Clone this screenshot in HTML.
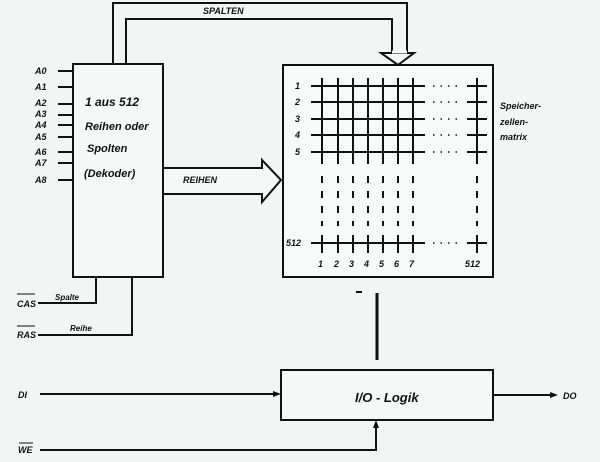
<!DOCTYPE html>
<html><head><meta charset="utf-8"><style>
body{margin:0;background:#f3f4f4}
svg{display:block}
text{font-family:"Liberation Sans",sans-serif;font-style:italic;font-weight:bold;fill:#111}
</style></head><body>
<svg width="600" height="462" viewBox="0 0 600 462">
<rect width="600" height="462" fill="#f3f4f4"/>
<g stroke="#111" stroke-width="2" fill="none">
<!-- decoder -->
<rect x="73" y="64" width="90" height="213" fill="#f6f7f7"/>
<!-- top loops -->
<polyline points="113,64 113,3 407,3 407,53"/>
<polyline points="126,64 126,19 392,19 392,53"/>
<polygon points="381,53 392,53 392,53 407,53 414,53 398,65" fill="#f6f7f7"/>
<line x1="392" y1="52" x2="407" y2="52" stroke="#f6f7f7" stroke-width="3"/>
<!-- REIHEN arrow -->
<polygon points="163,168 262,168 262,160 281,180 262,202 262,194 163,194" fill="#f6f7f7"/>
<!-- matrix box -->
<rect x="283" y="65" width="210" height="212" fill="#f8f9f9"/>
<!-- address lines -->
<line x1="58" y1="71" x2="73" y2="71"/><line x1="58" y1="87" x2="73" y2="87"/>
<line x1="58" y1="104" x2="73" y2="104"/><line x1="58" y1="115" x2="73" y2="115"/>
<line x1="58" y1="125" x2="73" y2="125"/><line x1="58" y1="137" x2="73" y2="137"/>
<line x1="58" y1="152" x2="73" y2="152"/><line x1="58" y1="163" x2="73" y2="163"/>
<line x1="58" y1="180" x2="73" y2="180"/>
<!-- CAS RAS -->
<polyline points="38,303 96,303 96,277"/>
<polyline points="38,335 132,335 132,277"/>
<!-- IO -->
<rect x="281" y="370" width="212" height="50" fill="#f6f7f7"/>
<line x1="377" y1="293" x2="377" y2="360" stroke-width="3"/>
<line x1="356" y1="292" x2="362" y2="292"/>
<line x1="40" y1="394" x2="276" y2="394"/>
<line x1="493" y1="395" x2="552" y2="395"/>
<polyline points="40,450 376,450 376,425"/>
</g>
<g fill="#111">
<polygon points="281,394 273,391 273,397"/>
<polygon points="558,395 550,392 550,398"/>
<polygon points="376,420 373,428 379,428"/>
</g>
<!-- matrix grid -->
<g stroke="#111" stroke-width="2">
<line x1="311" y1="86" x2="425" y2="86"/><line x1="311" y1="102" x2="425" y2="102"/>
<line x1="311" y1="119" x2="425" y2="119"/><line x1="311" y1="135" x2="425" y2="135"/>
<line x1="311" y1="152" x2="425" y2="152"/><line x1="311" y1="243" x2="425" y2="243"/>
<g id="v">
<line x1="322" y1="78" x2="322" y2="164"/><line x1="322" y1="235" x2="322" y2="253"/>
<line x1="322" y1="176" x2="322" y2="226" stroke-dasharray="7,8"/>
</g>
<use href="#v" x="16"/><use href="#v" x="31"/><use href="#v" x="46"/>
<use href="#v" x="61"/><use href="#v" x="76"/><use href="#v" x="91"/>
<line x1="477" y1="78" x2="477" y2="164"/><line x1="477" y1="235" x2="477" y2="253"/>
<line x1="477" y1="176" x2="477" y2="226" stroke-dasharray="7,8"/>
<line x1="467" y1="86" x2="487" y2="86"/><line x1="467" y1="102" x2="487" y2="102"/>
<line x1="467" y1="119" x2="487" y2="119"/><line x1="467" y1="135" x2="487" y2="135"/>
<line x1="467" y1="152" x2="487" y2="152"/><line x1="467" y1="243" x2="487" y2="243"/>
</g>
<g stroke="#111" stroke-width="1.5" stroke-dasharray="1.5,6">
<line x1="433" y1="86" x2="462" y2="86"/><line x1="433" y1="102" x2="462" y2="102"/>
<line x1="433" y1="119" x2="462" y2="119"/><line x1="433" y1="135" x2="462" y2="135"/>
<line x1="433" y1="152" x2="462" y2="152"/><line x1="433" y1="243" x2="462" y2="243"/>
</g>
<g font-size="9">
<text x="203" y="14">SPALTEN</text>
<text x="183" y="183">REIHEN</text>
<text x="35" y="74">A0</text><text x="35" y="90">A1</text><text x="35" y="106">A2</text>
<text x="35" y="117">A3</text><text x="35" y="128">A4</text><text x="35" y="140">A5</text>
<text x="35" y="155">A6</text><text x="35" y="166">A7</text><text x="35" y="183">A8</text>
<text x="17" y="307">CAS</text><text x="17" y="338">RAS</text>
<text x="55" y="300" font-size="8">Spalte</text>
<text x="70" y="331" font-size="8">Reihe</text>
<text x="295" y="89">1</text><text x="295" y="105">2</text><text x="295" y="122">3</text>
<text x="295" y="138">4</text><text x="295" y="155">5</text><text x="286" y="246">512</text>
<text x="318" y="267">1</text><text x="334" y="267">2</text><text x="349" y="267">3</text>
<text x="364" y="267">4</text><text x="379" y="267">5</text><text x="394" y="267">6</text>
<text x="409" y="267">7</text><text x="465" y="267">512</text>
<text x="500" y="109">Speicher-</text><text x="500" y="125">zellen-</text><text x="500" y="140">matrix</text>
<text x="18" y="398">DI</text><text x="18" y="453">WE</text><text x="563" y="399">DO</text>
</g>
<g stroke="#111" stroke-width="1"><line x1="17" y1="294" x2="35" y2="294"/><line x1="17" y1="326" x2="35" y2="326"/><line x1="19" y1="443" x2="33" y2="443"/></g>
<g font-size="11" font-weight="normal">
<text x="85" y="106" font-size="12">1 aus 512</text>
<text x="85" y="130">Reihen oder</text>
<text x="87" y="152">Spolten</text>
<text x="84" y="177">(Dekoder)</text>
<text x="355" y="402" font-size="13">I/O - Logik</text>
</g>
</svg>
</body></html>
